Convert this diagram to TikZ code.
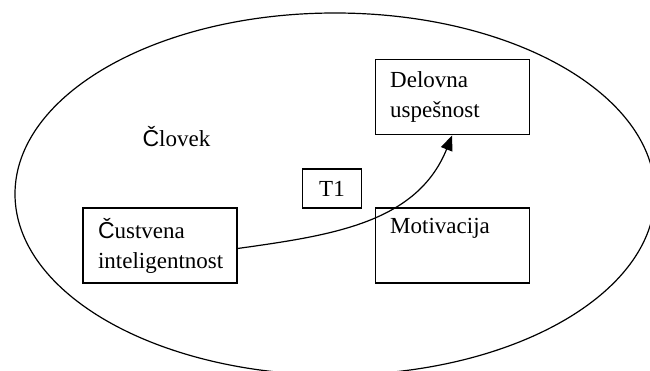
\documentclass[tikz,border=0pt]{standalone}
\usepackage{fontspec}
\setmainfont{Liberation Serif}
\setsansfont{Liberation Sans}
\usepackage{tikz}
\usetikzlibrary{positioning,arrows.meta}

\newcommand{\sC}{{\sffamily Č}}

\tikzstyle{factor} = [rectangle, draw=black, line width=1.2pt, text width=124pt, inner xsep=15pt, inner ysep=0pt, minimum height=75pt, align=left]
\tikzstyle{tag} = [rectangle, draw=black, line width=1.2pt, minimum width=59pt, minimum height=39pt, inner sep=0pt]
\tikzstyle{arrow} = [line width=1.2pt,->,>={Triangle[length=15pt,width=12pt]}]

\begin{document}
\begin{tikzpicture}[x=1pt,y=1pt,every node/.style={font=\fontsize{23}{30}\selectfont}]

	\clip (0,0) rectangle (650,370);

	\draw [line width=1.2pt] (335,176) ellipse [x radius=320, y radius=181];

	\node (human) [anchor=base west] at (139,223) {\sC lovek};
	\node (cust) [factor] at (160,124.5) {\sC ustvena\\inteligentnost};
		\node (motiv) [factor,right=137pt of cust] {Motivacija\\\strut};
		\node (delov) [factor,above=72pt of motiv] {Delovna\\uspešnost};
	\node (t1) [tag] at (332,181.5) {T1};

	\draw [arrow] ([yshift=-3pt]cust.east) to[out=8,in=248] (delov.south);

\end{tikzpicture}
\end{document}
